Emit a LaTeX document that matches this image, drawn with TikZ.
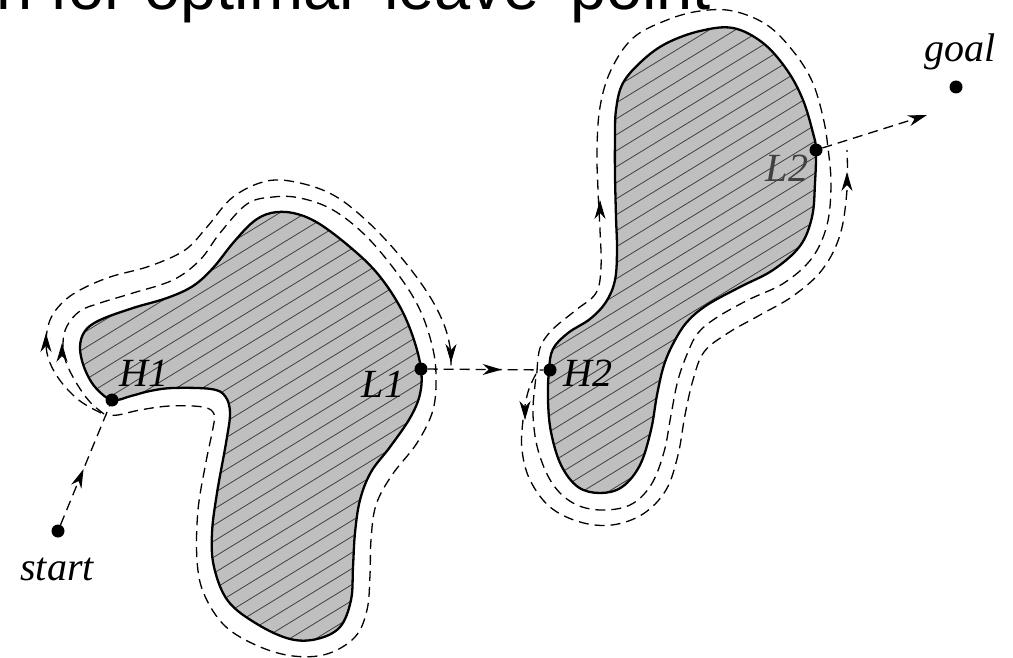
\documentclass[tikz,border=0pt]{standalone}
\usepackage{fontspec}
\setmainfont{Liberation Serif}
\newfontfamily\titlefont{Liberation Sans}
\usetikzlibrary{arrows.meta,decorations.markings}
\begin{document}
\begin{tikzpicture}[x=1pt,y=-1pt,
  obst/.style={line width=2.3pt, line join=round},
  obstfill/.style={fill=black!25},
  hatchline/.style={line width=0.8pt, draw=black!75},
  trail/.style={line width=1.3pt, dash pattern=on 10pt off 6pt},
  conn/.style={line width=1.3pt, dash pattern=on 10pt off 6pt},
  blackdot/.style={circle, fill=black, inner sep=0pt, minimum size=13pt},
  lbl/.style={font=\fontsize{40}{40}\selectfont\itshape, inner sep=0pt},
  arrhead/.style={-{Stealth[length=19pt,width=11pt,inset=6pt]}, line width=1pt},
  midarrow/.style={postaction={decorate}, decoration={markings, mark=at position #1 with {\arrow{Stealth[length=19pt,width=11pt,inset=6pt]}}}},
]
\useasboundingbox (0,0) rectangle (1013,658);
\clip (0,0) rectangle (1013,658);

% title (cut off at the top)
\node[anchor=base west, inner sep=0pt, font=\titlefont\fontsize{65}{65}\selectfont] (title) at (-4,10) {n for optimal 'leave' point};

\def\obsA{plot[smooth cycle, tension=0.6] coordinates {
 (112,400) (95,387) (84,367) (80,347) (85,331) (100,320) (133,308) (167,298) (193,286) (213,268) (233,243) (253,222) (271,213) (293,213) (318,223) (350,247) (377,273) (399,305) (413,337) (421,369) (420,394) (410,418) (390,447) (371,472) (360,500) (355,533) (353,567) (351,600) (340,627) (317,639) (290,639) (257,624) (228,601) (214,567) (212,533) (217,493) (226,443) (230,413) (225,396) (211,389) (173,388) (150,391) (131,396)}}
\def\obsB{plot[smooth cycle, tension=0.6] coordinates {
 (549,370) (553,349) (568,333) (590,319) (606,302) (615,280) (617,250) (616,217) (615,175) (615,140) (616,110) (623,83) (643,60) (667,43) (700,31) (733,28) (763,43) (787,70) (803,100) (813,133) (816,150) (815,183) (812,217) (800,246) (773,270) (740,287) (707,305) (687,322) (674,342) (664,365) (657,395) (651,430) (640,465) (622,487) (600,493) (578,487) (561,465) (551,432) (548,400)}}

% obstacles
\foreach \shp in {\obsA,\obsB}{
  \fill[obstfill] \shp;
  \begin{scope}
    \clip \shp;
    \foreach \c in {0,16,...,1264} \draw[hatchline] (0,\c) -- (1013,\c-620);
  \end{scope}
  \draw[obst] \shp;
}

% trails around the left obstacle
\draw[trail] plot[smooth, tension=0.6] coordinates {
 (104,414) (90,402) (77,384) (66,362) (63,343) (67,326) (80,311) (100,303) (133,293) (173,280) (200,260) (220,233) (247,204) (273,197) (300,198) (333,210) (367,237) (400,277) (420,310) (432,345) (436,375) (433,410) (417,443) (392,475) (376,505) (371,540) (370,575) (367,610) (355,637) (327,654) (293,656) (258,646) (225,626) (204,594) (197,560) (198,510) (206,462) (213,428) (214,414) (203,407) (170,406) (140,410) (118,415) (106,415)};
\draw[trail] plot[smooth, tension=0.6] coordinates {
 (101,413) (80,401) (62,383) (50,363) (46,343) (50,320) (62,303) (80,290) (110,277) (150,266) (185,250) (207,227) (233,197) (267,181) (300,183) (335,196) (368,222) (400,256) (427,292) (443,322) (450,347) (451,368)};

% trails around the right obstacle
\draw[trail] plot[smooth, tension=0.6] coordinates {
 (537,372) (540,348) (552,330) (576,310) (596,293) (601,267) (600,230) (598,190) (597,150) (600,107) (611,70) (633,38) (667,20) (700,11) (733,11) (767,25) (793,51) (812,81) (823,117) (828,148) (831,185) (827,225) (812,258) (784,283) (748,300) (716,318) (698,333) (688,352) (678,380) (671,415) (664,452) (651,485) (630,505) (600,510) (573,503) (552,483) (538,450) (533,415) (535,385) (537,372)};
\draw[trail] plot[smooth, tension=0.6] coordinates {
 (536,374) (528,392) (523,420) (522,450) (530,480) (550,507) (580,522) (612,525) (643,514) (666,490) (678,455) (685,415) (693,380) (704,352) (728,333) (760,315) (793,296) (822,270) (840,235) (847,190) (847,150)};

% arrow heads on the trails
\draw[arrhead] (46,335) -- (46,333);
\draw[arrhead] (62,345) -- (62,343);
\draw[arrhead] (451,361) -- (451,363);
\draw[arrhead] (525,418) -- (525,420);
\draw[arrhead] (600,202) -- (600,200);
\draw[arrhead] (847,174) -- (847,172);

% points
\node[blackdot] (start) at (58,531) {};
\node[blackdot] (goal) at (956,87) {};
\node[blackdot] (H1) at (112,400) {};
\node[blackdot] (L1) at (421,369) {};
\node[blackdot] (H2) at (550,370) {};
\node[blackdot] (L2) at (816,150) {};
\coordinate (toward) at (927,115);

% connectors
\draw[conn, midarrow=0.47] (start) -- (H1);
\draw[conn, midarrow=0.64] (L1) -- (H2);
\draw[conn, -{Stealth[length=19pt,width=11pt,inset=6pt]}] (L2) -- (toward);

% labels
\node[lbl] (startlbl) at (57,569) {start};
\node[lbl] (goallbl) at (960,52) {goal};
\node[lbl] (H1lbl) at (144,373) {H1};
\node[lbl] (L1lbl) at (383,384) {L1};
\node[lbl] (H2lbl) at (588,373) {H2};
\node[lbl, text=black!75] (L2lbl) at (787,168) {L2};
\end{tikzpicture}
\end{document}
